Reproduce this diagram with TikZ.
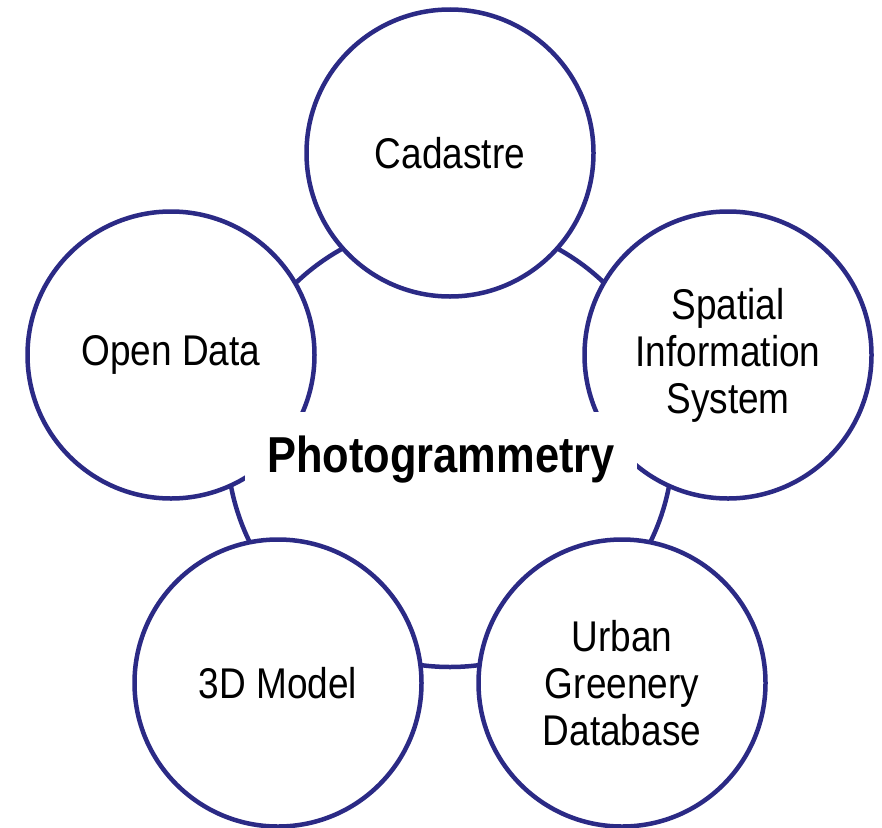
\documentclass[tikz,border=0pt]{standalone}
\usepackage{fontspec}
\setmainfont{Liberation Sans}[FakeStretch=0.86]
\definecolor{ringblue}{HTML}{2B2A85}
\begin{document}
\begin{tikzpicture}[x=1pt,y=-1pt,
  topic/.style={circle, draw=ringblue, line width=4.5pt, fill=white, minimum size=287pt, inner sep=0pt, align=center, font=\fontsize{43}{47}\selectfont},
  ring/.style={draw=ringblue, line width=4.5pt}]
\useasboundingbox (0,0) rectangle (882,827);
\coordinate (c) at (450,444);
\draw[ring] (c) circle[radius=223];
\node[topic] (cad) at (450,153) {Cadastre};
\node[topic] (open) at (171,355) {Open Data};
\node[topic] (sis) at (728,355) {Spatial\\Information\\System};
\node[topic] (urban) at (622,683) {Urban\\Greenery\\Database};
\node[topic] (model) at (278,683) {3D Model};
\node[fill=white, minimum width=392pt, minimum height=96pt, inner sep=0pt, font=\fontsize{50.5}{54}\selectfont\bfseries] (photo) at (441,460) {Photogrammetry};
\end{tikzpicture}
\end{document}
